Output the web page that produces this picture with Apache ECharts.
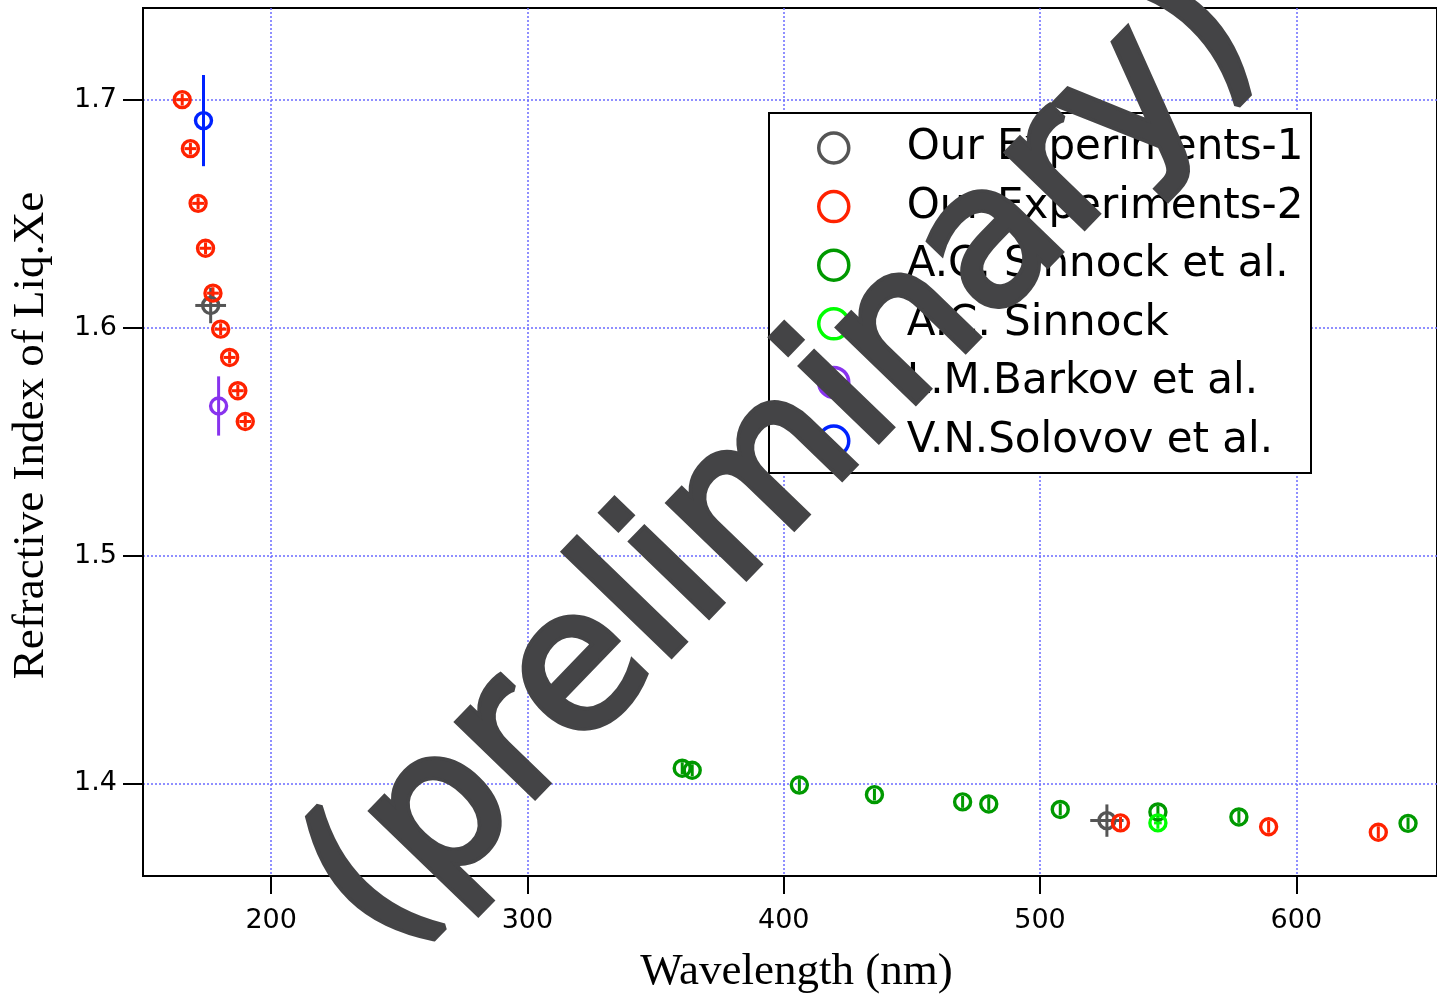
<!DOCTYPE html>
<html><head><meta charset="utf-8">
<script src="https://cdn.jsdelivr.net/npm/echarts@6/dist/echarts.min.js"></script>
<style>html,body{margin:0;padding:0;background:#fff}#c{width:1437px;height:1000px}</style>
</head><body><div id="c"></div>
<script>
// ---- data ----
const seriesNames = ['Our Experiments-1','Our Experiments-2','A.C. Sinnock et al.','A.C. Sinnock','L.M.Barkov et al.','V.N.Solovov et al.'];
const xTicks = [200, 300, 400, 500, 600];
const yTicks = [1.4, 1.5, 1.6, 1.7];

const exp1Wl   = [176.4, 526.1];
const exp1N    = [1.6097, 1.3837];
const exp1XErr = [6.0, 6.5];
const exp1YErr = [0.0078, 0.0071];

const exp2Wl   = [165.3, 168.5, 171.5, 174.4, 177.3, 180.3, 183.8, 187.0, 189.9, 531.4, 589.2, 632.0];
const exp2N    = [1.7000, 1.6785, 1.6545, 1.6348, 1.6151, 1.5993, 1.5869, 1.5723, 1.5588, 1.3827, 1.3810, 1.3786];
const exp2XErr = [2.3, 2.3, 2.3, 2.3, 2.3, 2.3, 2.3, 2.3, 2.3, 0, 0, 0];
const exp2YErr = [0.0026, 0.0026, 0.0026, 0.0026, 0.0026, 0.0026, 0.0026, 0.0026, 0.0026, 0.0026, 0.0026, 0.0026];

const sinnockAlWl   = [360.4, 364.3, 406.1, 435.4, 469.8, 480.0, 507.9, 546.0, 577.6, 643.6];
const sinnockAlN    = [1.4067, 1.4058, 1.3993, 1.3951, 1.3919, 1.3910, 1.3886, 1.3875, 1.3853, 1.3825];
const sinnockAlXErr = [0, 0, 0, 0, 0, 0, 0, 0, 0, 0];
const sinnockAlYErr = [0.0026, 0.0026, 0.0026, 0.0026, 0.0026, 0.0026, 0.0026, 0.0026, 0.0026, 0.0026];

const sinnockWl   = [546.0];
const sinnockN    = [1.3827];
const sinnockXErr = [1.5];
const sinnockYErr = [0.0026];

const barkovWl   = [179.5];
const barkovN    = [1.5656];
const barkovXErr = [0];
const barkovYErr = [0.013];

const solovovWl   = [173.6];
const solovovN    = [1.6908];
const solovovXErr = [0];
const solovovYErr = [0.020];

const colors = ['#555555', '#ff2200', '#009900', '#00ff00', '#8833ee', '#0022ff'];

// ---- build ----
const groups = [
  [exp1Wl, exp1N, exp1XErr, exp1YErr],
  [exp2Wl, exp2N, exp2XErr, exp2YErr],
  [sinnockAlWl, sinnockAlN, sinnockAlXErr, sinnockAlYErr],
  [sinnockWl, sinnockN, sinnockXErr, sinnockYErr],
  [barkovWl, barkovN, barkovXErr, barkovYErr],
  [solovovWl, solovovN, solovovXErr, solovovYErr]
];

function errRender(color) {
  return function (params, api) {
    const x = api.value(0), y = api.value(1), xe = api.value(2), ye = api.value(3);
    const children = [];
    if (ye > 0) {
      const a = api.coord([x, y + ye]), b = api.coord([x, y - ye]);
      children.push({type: 'line', shape: {x1: a[0], y1: a[1], x2: b[0], y2: b[1]}, style: {stroke: color, lineWidth: 3}});
    }
    if (xe > 0) {
      const a = api.coord([x - xe, y]), b = api.coord([x + xe, y]);
      children.push({type: 'line', shape: {x1: a[0], y1: a[1], x2: b[0], y2: b[1]}, style: {stroke: color, lineWidth: 3}});
    }
    return {type: 'group', children: children};
  };
}

const series = [];
groups.forEach(function (g, k) {
  const rows = g[0].map(function (w, i) { return [w, g[1][i], g[2][i], g[3][i]]; });
  series.push({
    type: 'custom', name: 'err' + k, renderItem: errRender(colors[k]),
    data: rows, z: 3, silent: true, encode: {x: 0, y: 1}
  });
  series.push({
    type: 'scatter', name: seriesNames[k], symbol: 'circle', symbolSize: 16,
    data: g[0].map(function (w, i) { return [w, g[1][i]]; }),
    itemStyle: {color: 'rgba(0,0,0,0)', borderColor: colors[k], borderWidth: 3.4, opacity: 1},
    emphasis: {disabled: true}, z: 4
  });
});

const chart = echarts.init(document.getElementById('c'), null, {renderer: 'canvas'});
chart.setOption({
  animation: false,
  backgroundColor: '#ffffff',
  grid: {left: 143, top: 8, right: -2, bottom: 120, show: true, borderColor: '#000', borderWidth: 2, backgroundColor: 'rgba(0,0,0,0)'},
  xAxis: {
    type: 'value', min: 150, max: 654.9,
    name: 'Wavelength (nm)', nameLocation: 'middle', nameGap: 74,
    nameTextStyle: {fontFamily: 'Liberation Serif', fontSize: 45, color: '#000', padding: [0, 0, 0, 13]},
    axisLine: {show: true, onZero: false, lineStyle: {color: '#000', width: 2}},
    axisTick: {show: true, length: 18, lineStyle: {color: '#000', width: 2}, customValues: xTicks},
    axisLabel: {fontFamily: 'DejaVu Sans', fontSize: 27, color: '#000', margin: 31, customValues: xTicks},
    splitLine: {show: true, lineStyle: {color: '#6b6bff', type: [2, 2], width: 1.5}}
  },
  yAxis: {
    type: 'value', min: 1.3594, max: 1.7402,
    name: 'Refractive Index of Liq.Xe', nameLocation: 'middle', nameGap: 89,
    nameTextStyle: {fontFamily: 'Liberation Serif', fontSize: 45, color: '#000', padding: [0, 0, 0, 13]},
    axisLine: {show: true, onZero: false, lineStyle: {color: '#000', width: 2}},
    axisTick: {show: true, length: 20, lineStyle: {color: '#000', width: 2}, customValues: yTicks},
    axisLabel: {fontFamily: 'DejaVu Sans', fontSize: 27, color: '#000', margin: 26, customValues: yTicks,
      formatter: function (v) { return v.toFixed(1); }},
    splitLine: {show: true, lineStyle: {color: '#6b6bff', type: [2, 2], width: 1.5}}
  },
  legend: {
    data: seriesNames, orient: 'vertical', left: 817, top: 127, padding: 0,
    itemWidth: 30, itemHeight: 30, itemGap: 16.6,
    itemStyle: {borderWidth: 3.5, opacity: 1},
    textStyle: {fontFamily: 'DejaVu Sans', fontSize: 42, color: '#000', padding: [0, 0, 0, 53]},
    selectedMode: false, z: 5
  },
  graphic: {elements: [
    {type: 'rect', shape: {x: 769, y: 113, width: 542, height: 360}, style: {fill: '#fff', stroke: '#000', lineWidth: 2}, z: 3, silent: true},
    {type: 'text', x: 786, y: 463, rotation: 0.803, z: 100, silent: true,
      style: {text: '(preliminary)', fontFamily: 'DejaVu Sans', fontSize: 195, fill: '#444446',
        stroke: '#444446', lineWidth: 7, lineJoin: 'round', align: 'center', verticalAlign: 'middle'}}
  ]},
  series: series
});
</script>
</body></html>
